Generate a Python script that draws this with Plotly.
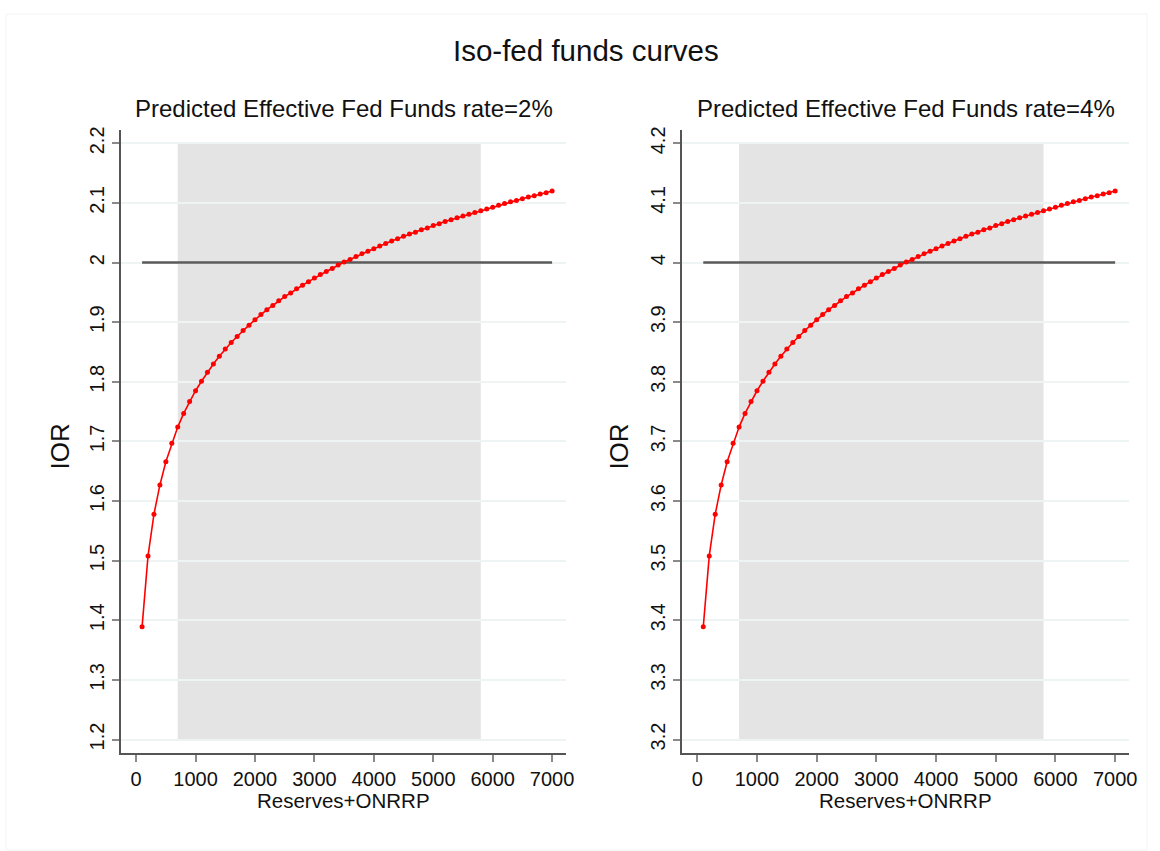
import plotly.graph_objects as go

# Reserves + ONRRP grid (billions)
reserves = [
    100, 200, 300, 400, 500, 600, 700, 800, 900, 1000,
    1100, 1200, 1300, 1400, 1500, 1600, 1700, 1800, 1900, 2000,
    2100, 2200, 2300, 2400, 2500, 2600, 2700, 2800, 2900, 3000,
    3100, 3200, 3300, 3400, 3500, 3600, 3700, 3800, 3900, 4000,
    4100, 4200, 4300, 4400, 4500, 4600, 4700, 4800, 4900, 5000,
    5100, 5200, 5300, 5400, 5500, 5600, 5700, 5800, 5900, 6000,
    6100, 6200, 6300, 6400, 6500, 6600, 6700, 6800, 6900, 7000,
]

# IOR needed to keep the predicted EFFR at 2%
ior_2pct = [
    1.389, 1.508, 1.578, 1.627, 1.666, 1.697, 1.724, 1.747, 1.767, 1.785,
    1.801, 1.816, 1.830, 1.843, 1.855, 1.866, 1.876, 1.886, 1.895, 1.904,
    1.913, 1.921, 1.928, 1.936, 1.943, 1.949, 1.956, 1.962, 1.968, 1.974,
    1.980, 1.985, 1.990, 1.996, 2.001, 2.005, 2.010, 2.015, 2.019, 2.023,
    2.028, 2.032, 2.036, 2.040, 2.044, 2.048, 2.051, 2.055, 2.058, 2.062,
    2.065, 2.069, 2.072, 2.075, 2.078, 2.081, 2.084, 2.087, 2.090, 2.093,
    2.096, 2.099, 2.102, 2.104, 2.107, 2.110, 2.112, 2.115, 2.117, 2.120,
]

# IOR needed to keep the predicted EFFR at 4%
ior_4pct = [
    3.389, 3.508, 3.578, 3.627, 3.666, 3.697, 3.724, 3.747, 3.767, 3.785,
    3.801, 3.816, 3.830, 3.843, 3.855, 3.866, 3.876, 3.886, 3.895, 3.904,
    3.913, 3.921, 3.928, 3.936, 3.943, 3.949, 3.956, 3.962, 3.968, 3.974,
    3.980, 3.985, 3.990, 3.996, 4.001, 4.005, 4.010, 4.015, 4.019, 4.023,
    4.028, 4.032, 4.036, 4.040, 4.044, 4.048, 4.051, 4.055, 4.058, 4.062,
    4.065, 4.069, 4.072, 4.075, 4.078, 4.081, 4.084, 4.087, 4.090, 4.093,
    4.096, 4.099, 4.102, 4.104, 4.107, 4.110, 4.112, 4.115, 4.117, 4.120,
]

targets = [2.0, 4.0]
panel_titles = [
    "Predicted Effective Fed Funds rate=2%",
    "Predicted Effective Fed Funds rate=4%",
]
y_ranges = [[1.1766, 2.2217], [3.1766, 4.2217]]
y_ticks = [
    [1.2, 1.3, 1.4, 1.5, 1.6, 1.7, 1.8, 1.9, 2.0, 2.1, 2.2],
    [3.2, 3.3, 3.4, 3.5, 3.6, 3.7, 3.8, 3.9, 4.0, 4.1, 4.2],
]
y_ticktext = [
    ["1.2", "1.3", "1.4", "1.5", "1.6", "1.7", "1.8", "1.9", "2", "2.1", "2.2"],
    ["3.2", "3.3", "3.4", "3.5", "3.6", "3.7", "3.8", "3.9", "4", "4.1", "4.2"],
]
x_ticks = [0, 1000, 2000, 3000, 4000, 5000, 6000, 7000]
band_x = [700, 5800]          # shaded range of observed reserves

W, H = 1160, 851
FONT = "Liberation Sans, Arial, sans-serif"


def px_x(p):
    return p / W


def px_y(p):
    return 1 - p / H


x_domains = [[px_x(122), px_x(570)], [px_x(687), px_x(1137)]]
y_domain = [px_y(753), px_y(127)]

fig = go.Figure()
series = [ior_2pct, ior_4pct]
shapes = []
annotations = []

for i in range(2):
    xa = "x" if i == 0 else "x2"
    ya = "y" if i == 0 else "y2"

    # target-rate reference line
    fig.add_trace(go.Scatter(
        x=[reserves[0], reserves[-1]], y=[targets[i], targets[i]],
        mode="lines", line=dict(color="#5a5a5a", width=2.6),
        xaxis=xa, yaxis=ya, showlegend=False, hoverinfo="skip",
    ))
    # iso-fed-funds curve
    fig.add_trace(go.Scatter(
        x=reserves, y=series[i], mode="lines+markers",
        line=dict(color="#ff0000", width=1.6),
        marker=dict(color="#ff0000", size=5),
        xaxis=xa, yaxis=ya, showlegend=False,
    ))

    shapes.append(dict(
        type="rect", xref=xa, yref=ya, layer="below",
        x0=band_x[0], x1=band_x[1], y0=y_ticks[i][0], y1=y_ticks[i][-1],
        fillcolor="#e4e4e4", line=dict(width=0),
    ))

    cx = (x_domains[i][0] + x_domains[i][1]) / 2
    annotations.append(dict(
        text=panel_titles[i], xref="paper", yref="paper",
        x=cx, y=px_y(105), xanchor="center", yanchor="middle",
        showarrow=False, font=dict(family=FONT, size=24, color="#111"),
    ))
    annotations.append(dict(
        text="Reserves+ONRRP", xref="paper", yref="paper",
        x=cx, y=px_y(800), xanchor="center", yanchor="middle",
        showarrow=False, font=dict(family=FONT, size=20.5, color="#111"),
    ))
    annotations.append(dict(
        text="IOR", xref="paper", yref="paper", textangle=-90,
        x=px_x(60 if i == 0 else 623), y=px_y(445),
        xanchor="center", yanchor="middle",
        showarrow=False, font=dict(family=FONT, size=26, color="#111"),
    ))

annotations.append(dict(
    text="Iso-fed funds curves", xref="paper", yref="paper",
    x=px_x(590), y=px_y(47), xanchor="center", yanchor="middle",
    showarrow=False, font=dict(family=FONT, size=29.5, color="#111"),
))

# faint outer frame
shapes.append(dict(
    type="rect", xref="paper", yref="paper",
    x0=px_x(6), x1=px_x(1155), y0=px_y(850), y1=px_y(10),
    line=dict(color="#f4f4f4", width=1), fillcolor="rgba(0,0,0,0)",
))

xaxis_common = dict(
    range=[-252, 7235], tickvals=x_ticks, ticks="outside", ticklen=7,
    tickwidth=1.5, tickcolor="#8a8a8a", showline=True, linecolor="#555",
    linewidth=1.6, showgrid=False, zeroline=False,
    tickfont=dict(family=FONT, size=20, color="#111"),
)
yaxis_common = dict(
    ticks="outside", ticklen=7, tickwidth=1.5, tickcolor="#8a8a8a",
    showline=True, linecolor="#555", linewidth=1.6, showgrid=True,
    gridcolor="#eef4f4", gridwidth=1.5, zeroline=False, tickangle=-90,
    tickfont=dict(family=FONT, size=20, color="#111"),
)

fig.update_layout(
    width=W, height=H,
    margin=dict(l=0, r=0, t=0, b=0),
    paper_bgcolor="white", plot_bgcolor="white",
    xaxis=dict(domain=x_domains[0], anchor="y", **xaxis_common),
    xaxis2=dict(domain=x_domains[1], anchor="y2", **xaxis_common),
    yaxis=dict(domain=y_domain, anchor="x", range=y_ranges[0],
               tickvals=y_ticks[0], ticktext=y_ticktext[0], **yaxis_common),
    yaxis2=dict(domain=y_domain, anchor="x2", range=y_ranges[1],
                tickvals=y_ticks[1], ticktext=y_ticktext[1], **yaxis_common),
    shapes=shapes,
    annotations=annotations,
)

fig.write_html("out.html")
